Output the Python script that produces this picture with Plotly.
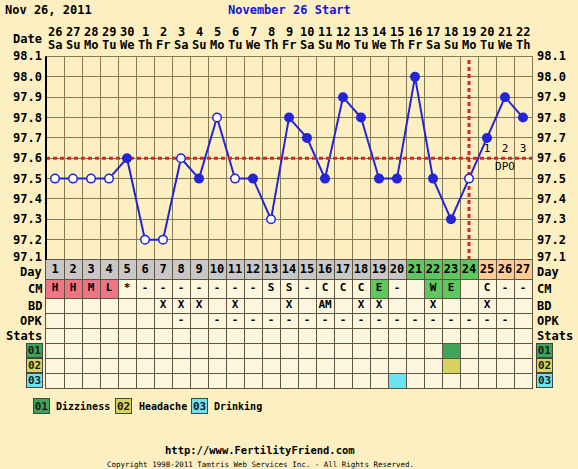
import plotly.graph_objects as go

# ---------------- data ----------------
days = list(range(1, 28))
dates = [26, 27, 28, 29, 30, 1, 2, 3, 4, 5, 6, 7, 8, 9, 10, 11, 12, 13, 14, 15, 16, 17, 18, 19, 20, 21, 22]
weekdays = ["Sa", "Su", "Mo", "Tu", "We", "Th", "Fr", "Sa", "Su", "Mo", "Tu", "We", "Th", "Fr",
            "Sa", "Su", "Mo", "Tu", "We", "Th", "Fr", "Sa", "Su", "Mo", "Tu", "We", "Th"]
temps = [97.5, 97.5, 97.5, 97.5, 97.6, 97.2, 97.2, 97.6, 97.5, 97.8, 97.5, 97.5, 97.3, 97.8,
         97.7, 97.5, 97.9, 97.8, 97.5, 97.5, 98.0, 97.5, 97.3, 97.5, 97.7, 97.9, 97.8]
open_point = [1, 1, 1, 1, 0, 1, 1, 1, 0, 1, 1, 0, 1, 0, 0, 0, 0, 0, 0, 0, 0, 0, 0, 1, 0, 0, 0]
cm = ["H", "H", "M", "L", "*", "-", "-", "-", "-", "-", "-", "-", "S", "S", "-", "C", "C", "C",
      "E", "-", "", "W", "E", "", "C", "-", "-"]
cm_fill = ["pink", "pink", "pink", "pink", "", "", "", "", "", "", "", "", "", "", "", "", "", "",
           "green", "", "", "green", "green", "", "", "", ""]
bd = ["", "", "", "", "", "", "X", "X", "X", "", "X", "", "", "X", "", "AM", "", "X", "X", "",
      "", "X", "", "", "X", "", ""]
opk = ["", "", "", "", "", "", "", "-", "", "-", "-", "-", "-", "-", "-", "-", "-", "-", "-", "-",
       "-", "-", "-", "-", "-", "-", ""]
day_phase = ["gray"] * 20 + ["green"] * 4 + ["orange"] * 3
stat_codes = ["01", "02", "03"]
stat_names = ["Dizziness", "Headache", "Drinking"]
stat_days = [[23], [23], [20]]
temp_ticks = [97.1, 97.2, 97.3, 97.4, 97.5, 97.6, 97.7, 97.8, 97.9, 98.0, 98.1]
coverline = 97.6
ovulation_day = 24
dpo_days = [25, 26, 27]
dpo_labels = ["1", "2", "3"]
table_rows = ["Day", "CM", "BD", "OPK", "Stats", "01", "02", "03"]

# ---------------- styling / geometry ----------------
W, H = 578, 469
X0, X1 = 46, 532           # plot left/right in px
T_TOP, T_BOT = 56.5, 260   # temperature area px
row_edges = [260, 279, 298, 313, 328, 343, 358, 373, 388]
BG = "#FCF0C3"
TABLE_BG = "#FDF6DF"
GRID = "#857B55"
TGRID = "#5E5540"
BLUE = "#2424D8"
RED = "#D02A2A"
FONT = "DejaVu Sans Mono"
COL = {"gray": "#C8C8C8", "green": "#5EC75E", "orange": "#FFCC96", "pink": "#EE7585"}
STAT_COL = ["#3FA456", "#D6D45C", "#6AE2F0"]


def py(px):
    return 1 - px / H


def px_x(px):
    return px / W


row_mid = [(row_edges[i] + row_edges[i + 1]) / 2 for i in range(len(table_rows))]
rmid = dict(zip(table_rows, row_mid))

fig = go.Figure()

marker_style = dict(size=8.5, color=["white" if o else BLUE for o in open_point],
                    line=dict(color=BLUE, width=1.5))

# temperature line
fig.add_trace(go.Scatter(x=days, y=temps, mode="lines", xaxis="x", yaxis="y",
                         line=dict(color=BLUE, width=2), hoverinfo="skip", showlegend=False))
# coverline and ovulation line
fig.add_trace(go.Scatter(x=[0.5, 27.5], y=[coverline, coverline], mode="lines",
                         line=dict(color=RED, width=3, dash="4px,3px"),
                         xaxis="x", yaxis="y", showlegend=False, hoverinfo="skip"))
fig.add_trace(go.Scatter(x=[ovulation_day, ovulation_day], y=[temp_ticks[0], temp_ticks[-1]],
                         mode="lines", line=dict(color=RED, width=3, dash="4px,3px"),
                         xaxis="x", yaxis="y", showlegend=False, hoverinfo="skip"))
# markers on top
fig.add_trace(go.Scatter(x=days, y=temps, mode="markers", xaxis="x", yaxis="y",
                         marker=marker_style, hoverinfo="skip", showlegend=False))

# DPO labels
fig.add_trace(go.Scatter(x=dpo_days, y=[coverline + 0.045] * 3, mode="text", text=dpo_labels,
                         textfont=dict(family=FONT, size=11, color="black"),
                         xaxis="x", yaxis="y", showlegend=False, hoverinfo="skip"))
fig.add_trace(go.Scatter(x=[dpo_days[1]], y=[coverline - 0.045], mode="text", text=["DPO"],
                         textfont=dict(family=FONT, size=11, color="black"),
                         xaxis="x", yaxis="y", showlegend=False, hoverinfo="skip"))

shapes = []
# table background
shapes.append(dict(type="rect", xref="x2", yref="y2", x0=0.5, x1=27.5,
                   y0=row_edges[1], y1=row_edges[-1], fillcolor=TABLE_BG, line_width=0, layer="below"))
# day row fills
for d, ph in zip(days, day_phase):
    shapes.append(dict(type="rect", xref="x2", yref="y2", x0=d - 0.5, x1=d + 0.5,
                       y0=row_edges[0], y1=row_edges[1], fillcolor=COL[ph], line_width=0, layer="below"))
# cm fills
for d, c in zip(days, cm_fill):
    if c:
        shapes.append(dict(type="rect", xref="x2", yref="y2", x0=d - 0.5, x1=d + 0.5,
                           y0=row_edges[1], y1=row_edges[2], fillcolor=COL[c], line_width=0, layer="below"))
# stats fills
for i, sd in enumerate(stat_days):
    for d in sd:
        shapes.append(dict(type="rect", xref="x2", yref="y2", x0=d - 0.5, x1=d + 0.5,
                           y0=row_edges[5 + i], y1=row_edges[6 + i], fillcolor=STAT_COL[i],
                           line_width=0, layer="below"))
# left black border
shapes.append(dict(type="line", xref="paper", yref="paper", x0=px_x(X0), x1=px_x(X0),
                   y0=py(T_BOT), y1=py(T_TOP), line=dict(color="black", width=2)))

# table text
tf = dict(family=FONT, size=12, color="black")
fig.add_trace(go.Scatter(x=days, y=[rmid["Day"]] * 27, mode="text",
                         text=["<b>%d</b>" % d for d in days], textfont=tf,
                         xaxis="x2", yaxis="y2", showlegend=False, hoverinfo="skip"))
for name, vals in (("CM", cm), ("BD", bd), ("OPK", opk)):
    xs = [d for d, v in zip(days, vals) if v]
    ts = ["<b>%s</b>" % v for v in vals if v]
    fig.add_trace(go.Scatter(x=xs, y=[rmid[name]] * len(xs), mode="text", text=ts,
                             textfont=dict(family=FONT, size=11, color="black"),
                             xaxis="x2", yaxis="y2", showlegend=False, hoverinfo="skip"))

ann = []
bold12 = dict(family=FONT, size=12, color="black")
# titles
ann.append(dict(x=px_x(3), y=py(10), xref="paper", yref="paper", xanchor="left", yanchor="middle",
                text="<b>Nov 26, 2011</b>", showarrow=False, font=bold12))
ann.append(dict(x=px_x(289), y=py(10), xref="paper", yref="paper", xanchor="center", yanchor="middle",
                text="<b>November 26 Start</b>", showarrow=False,
                font=dict(family=FONT, size=12, color="#1414D0")))
ann.append(dict(x=px_x(44), y=py(39), xref="paper", yref="paper", xanchor="right", yanchor="middle",
                text="<b>Date</b>", showarrow=False, font=bold12))
for d, dt, wd in zip(days, dates, weekdays):
    ann.append(dict(x=d, y=py(32), xref="x", yref="paper", xanchor="center", yanchor="middle",
                    text="<b>%d</b>" % dt, showarrow=False, font=bold12))
    ann.append(dict(x=d, y=py(45), xref="x", yref="paper", xanchor="center", yanchor="middle",
                    text="<b>%s</b>" % wd, showarrow=False, font=bold12))
# temperature labels both sides
for t in temp_ticks:
    shift = 3 if t == temp_ticks[0] else 0
    ann.append(dict(x=px_x(44), y=t, xref="paper", yref="y", xanchor="right", yanchor="middle",
                    text="<b>%.1f</b>" % t, showarrow=False, font=bold12, yshift=shift))
    ann.append(dict(x=px_x(535), y=t, xref="paper", yref="y", xanchor="left", yanchor="middle",
                    text="<b>%.1f</b>" % t, showarrow=False, font=bold12, yshift=shift))
# row labels
for name in table_rows[:5]:
    shift = -2 if name == "Day" else 0
    ann.append(dict(x=px_x(44), y=rmid[name], xref="paper", yref="y2", xanchor="right",
                    yanchor="middle", text="<b>%s</b>" % name, showarrow=False, font=bold12,
                    yshift=shift))
    ann.append(dict(x=px_x(535), y=rmid[name], xref="paper", yref="y2", xanchor="left",
                    yanchor="middle", text="<b>%s</b>" % name, showarrow=False, font=bold12,
                    yshift=shift))
for i, code in enumerate(stat_codes):
    for xc in (34.5, 544.5):
        ann.append(dict(x=px_x(xc), y=row_mid[5 + i], xref="paper", yref="y2", xanchor="center",
                        yanchor="middle", text="<b>%s</b>" % code, showarrow=False,
                        font=dict(family=FONT, size=11, color="#1a1a1a"),
                        bgcolor=STAT_COL[i], bordercolor="#444", borderwidth=1,
                        width=15, height=13, borderpad=0))
# legend
leg_box_x = [41, 123.5, 199]
leg_txt_x = [54, 137, 212]
for i in range(3):
    ann.append(dict(x=px_x(leg_box_x[i]), y=py(406), xref="paper", yref="paper", xanchor="center",
                    yanchor="middle", text="<b>%s</b>" % stat_codes[i], showarrow=False,
                    font=dict(family=FONT, size=11, color="#1a1a1a"),
                    bgcolor=STAT_COL[i], bordercolor="#444", borderwidth=1,
                    width=15, height=14, borderpad=0))
    ann.append(dict(x=px_x(leg_txt_x[i]), y=py(406), xref="paper", yref="paper", xanchor="left",
                    yanchor="middle", text="<b>%s</b>" % stat_names[i], showarrow=False,
                    font=dict(family=FONT, size=10, color="black")))
# footer
ann.append(dict(x=px_x(260), y=py(450), xref="paper", yref="paper", xanchor="center", yanchor="middle",
                text="<b>http://www.FertilityFriend.com</b>", showarrow=False,
                font=dict(family=FONT, size=10.5, color="black")))
ann.append(dict(x=px_x(260), y=py(464), xref="paper", yref="paper", xanchor="center", yanchor="middle",
                text="Copyright 1998-2011 Tamtris Web Services Inc. - All Rights Reserved.",
                showarrow=False, font=dict(family=FONT, size=7.5, color="black")))

grid_x = [d - 0.5 for d in days] + [27.5]
fig.update_layout(
    width=W, height=H, margin=dict(l=0, r=0, t=0, b=0),
    paper_bgcolor=BG, plot_bgcolor=BG, showlegend=False,
    xaxis=dict(domain=[px_x(X0), px_x(X1)], range=[0.5, 27.5], tickvals=grid_x,
               showticklabels=False, ticks="", showgrid=True, gridcolor=GRID, gridwidth=1,
               zeroline=False, showline=True, mirror=True, linecolor=GRID, linewidth=1,
               anchor="y", fixedrange=True),
    yaxis=dict(domain=[py(T_BOT), py(T_TOP)], range=[temp_ticks[0], temp_ticks[-1]],
               tickvals=temp_ticks, showticklabels=False, ticks="", showgrid=True,
               gridcolor=GRID, gridwidth=1, zeroline=False, showline=True, mirror=True,
               linecolor=GRID, anchor="x"),
    xaxis2=dict(domain=[px_x(X0), px_x(X1)], range=[0.5, 27.5], tickvals=grid_x,
                showticklabels=False, ticks="", showgrid=True, gridcolor=TGRID, gridwidth=1,
                zeroline=False, showline=True, mirror=True, linecolor=TGRID, anchor="y2"),
    yaxis2=dict(domain=[py(row_edges[-1]), py(row_edges[0])], range=[row_edges[-1], row_edges[0]],
                tickvals=row_edges, showticklabels=False, ticks="", showgrid=True,
                gridcolor=TGRID, gridwidth=1, zeroline=False, showline=True, mirror=True,
                linecolor=TGRID, anchor="x2"),
    shapes=shapes, annotations=ann,
)

fig.write_html("out.html")
